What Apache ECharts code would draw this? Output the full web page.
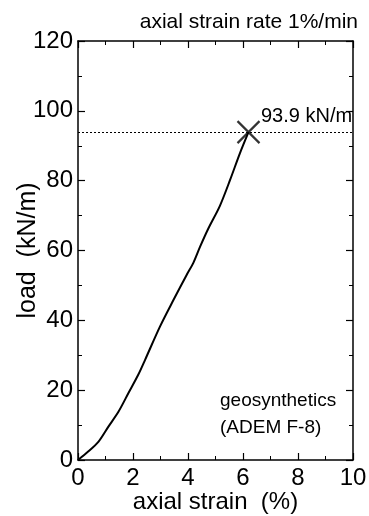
<!DOCTYPE html>
<html>
<head>
<meta charset="utf-8">
<script src="https://cdn.jsdelivr.net/npm/echarts@6/dist/echarts.min.js"></script>
<style>
  html, body { margin: 0; padding: 0; background: #fff; }
  #main { width: 369px; height: 516px; }
</style>
</head>
<body>
<div id="main"></div>
<script>
// axial strain (%) vs load (kN/m)
var strain = [0, 0.37, 0.74, 1.10, 1.47, 1.83, 2.19, 2.44, 2.98, 3.47, 3.95, 4.19, 4.44, 4.74, 5.16, 5.53, 5.89, 6.2];
var load = [0, 2.4, 5.2, 9.5, 13.8, 19.1, 24.4, 28.7, 38.2, 45.8, 53.0, 56.4, 61.1, 66.3, 72.8, 80.2, 87.9, 93.9];
var peak = [6.2, 93.9];
var peakText = '93.9 kN/m';

var myChart = echarts.init(document.getElementById('main'));
var font = 'Liberation Sans, Arial, sans-serif';

var curve = strain.map(function (s, i) { return [s, load[i]]; });

var axisCommon = {
  axisLine: { onZero: false, lineStyle: { color: '#000', width: 1.5 } },
  axisTick: { inside: true, length: 7, lineStyle: { color: '#000', width: 1.2 } },
  minorTick: { show: true, splitNumber: 2, length: 4, lineStyle: { color: '#000', width: 1 } },
  splitLine: { show: false }
};

var option = {
  animation: false,
  backgroundColor: '#fff',
  grid: { left: 78, right: 16, top: 41, bottom: 56, outerBoundsMode: 'none', containLabel: false },
  title: {
    text: 'axial strain rate 1%/min',
    right: 6, top: 7,
    textStyle: { fontFamily: font, fontSize: 21, fontWeight: 'normal', color: '#000' }
  },
  xAxis: [
    Object.assign({
      type: 'value', min: 0, max: 10, interval: 2,
      name: 'axial strain  (%)', nameLocation: 'middle', nameGap: 30, nameMoveOverlap: false,
      nameTextStyle: { fontFamily: font, fontSize: 24, color: '#000', verticalAlign: 'top' },
      axisLabel: { fontFamily: font, fontSize: 24, color: '#000', margin: 6 }
    }, axisCommon),
    Object.assign({
      type: 'value', min: 0, max: 10, interval: 2, position: 'top',
      axisLabel: { show: false }
    }, axisCommon)
  ],
  yAxis: [
    Object.assign({
      type: 'value', min: 0, max: 120, interval: 20,
      name: 'load  (kN/m)', nameLocation: 'middle', nameGap: 37, nameMoveOverlap: false,
      nameTextStyle: { fontFamily: font, fontSize: 25, color: '#000' },
      axisLabel: { fontFamily: font, fontSize: 24, color: '#000', margin: 5 }
    }, axisCommon),
    Object.assign({
      type: 'value', min: 0, max: 120, interval: 20, position: 'right',
      axisLabel: { show: false }
    }, axisCommon)
  ],
  series: [
    {
      type: 'line',
      data: curve,
      showSymbol: false,
      smooth: 0.3,
      lineStyle: { color: '#000', width: 2 },
      markLine: {
        silent: true,
        symbol: 'none',
        label: { show: false },
        lineStyle: { color: '#000', type: [2, 2], width: 1 },
        data: [{ yAxis: peak[1] }]
      }
    },
    {
      type: 'scatter',
      data: [peak],
      symbol: 'path://M0,0L10,10M10,0L0,10',
      symbolSize: 22,
      itemStyle: { color: 'none', borderColor: '#000', borderWidth: 2.2 },
      label: {
        show: true, position: 'right', offset: [-6, -16],
        formatter: peakText,
        fontFamily: font, fontSize: 20, color: '#000', opacity: 1
      }
    }
  ],
  graphic: [
    {
      type: 'text', left: 220, top: 387,
      style: { text: 'geosynthetics\n(ADEM F-8)', font: '19px ' + font, fill: '#000', lineHeight: 27 }
    }
  ]
};

myChart.setOption(option);
</script>
</body>
</html>
